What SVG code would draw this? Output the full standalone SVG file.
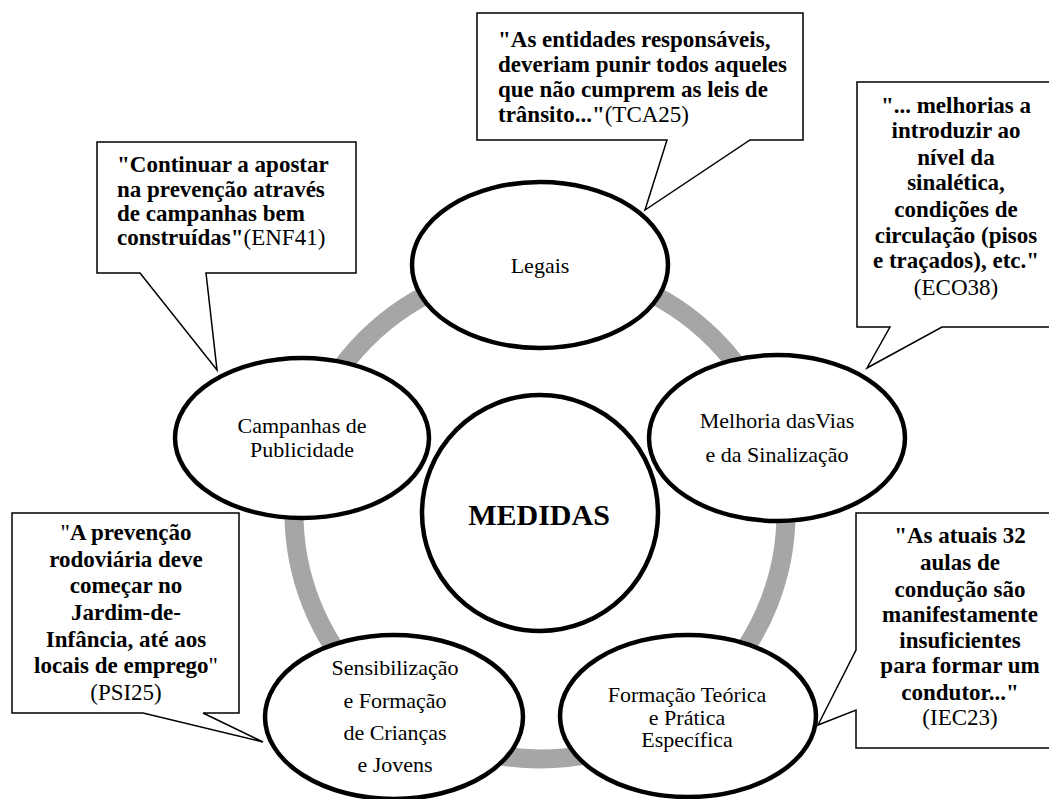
<svg xmlns="http://www.w3.org/2000/svg" width="1049" height="799" viewBox="0 0 1049 799" font-family="'Liberation Serif', Tinos, 'Times New Roman', Times, 'DejaVu Serif', serif">
<style>
text{font-family:'Liberation Serif',Tinos,'Times New Roman',Times,'DejaVu Serif',serif;fill:#000}
.node{fill:#fff;stroke:#000;stroke-width:4.5}
.lbl{font-size:22px;text-anchor:middle}
.call{fill:#fff;stroke:#000;stroke-width:1.5;stroke-linejoin:miter}
.q{font-size:23px;font-weight:bold}
.r{font-weight:normal}
.c{text-anchor:middle}
</style>
<rect width="1049" height="799" fill="#fff"/>
<g id="connectors">
<circle cx="540" cy="513" r="246" fill="none" stroke="#a6a6a6" stroke-width="19"/>
</g>
<g id="node-legais">
<ellipse class="node" cx="540" cy="265" rx="128" ry="83"/>
<text class="lbl" x="540" y="273">Legais</text>
</g>
<g id="node-melhoria">
<ellipse class="node" cx="777" cy="438" rx="128" ry="83"/>
<text class="lbl" x="777" y="428">Melhoria dasVias</text>
<text class="lbl" x="777" y="462">e da Sinalização</text>
</g>
<g id="node-formacao">
<ellipse class="node" cx="688" cy="716" rx="128" ry="81"/>
<text class="lbl" x="687" y="702">Formação Teórica</text>
<text class="lbl" x="687" y="725">e Prática</text>
<text class="lbl" x="687" y="747">Específica</text>
</g>
<g id="node-sensibilizacao">
<ellipse class="node" cx="394" cy="717" rx="129" ry="82"/>
<text class="lbl" x="395" y="675">Sensibilização</text>
<text class="lbl" x="395" y="708">e Formação</text>
<text class="lbl" x="395" y="740">de Crianças</text>
<text class="lbl" x="395" y="772">e Jovens</text>
</g>
<g id="node-campanhas">
<ellipse class="node" cx="302" cy="438" rx="127" ry="80"/>
<text class="lbl" x="302" y="433">Campanhas de</text>
<text class="lbl" x="302" y="457">Publicidade</text>
</g>
<g id="node-medidas">
<ellipse class="node" cx="540" cy="513" rx="118" ry="118"/>
<text x="539" y="525" font-size="30" font-weight="bold" text-anchor="middle">MEDIDAS</text>
</g>
<g id="callout-tca25">
<path class="call" d="M477,13 H803 V140 H750 L645,210 L667,140 H477 Z"/>
<text class="q" x="498" y="47">"As entidades responsáveis,</text>
<text class="q" x="498" y="72">deveriam punir todos aqueles</text>
<text class="q" x="498" y="97">que não cumprem as leis de</text>
<text class="q" x="498" y="122">trânsito..."<tspan class="r">(TCA25)</tspan></text>
</g>
<g id="callout-enf41">
<path class="call" d="M97,142 H356 V273 H206 L217,370 L140,273 H97 Z"/>
<text class="q" x="117" y="172">"Continuar a apostar</text>
<text class="q" x="117" y="197">na prevenção através</text>
<text class="q" x="117" y="221">de campanhas bem</text>
<text class="q" x="117" y="245">construídas"<tspan class="r">(ENF41)</tspan></text>
</g>
<g id="callout-eco38">
<path class="call" d="M857,82 H1062 V327 H942 L867,368 L890,327 H857 Z"/>
<text class="q c" x="956" y="113">"... melhorias a</text>
<text class="q c" x="956" y="138">introduzir ao</text>
<text class="q c" x="956" y="165">nível da</text>
<text class="q c" x="956" y="190">sinalética,</text>
<text class="q c" x="956" y="217">condições de</text>
<text class="q c" x="956" y="243">circulação (pisos</text>
<text class="q c" x="956" y="268">e traçados), etc."</text>
<text class="q c r" x="956" y="295">(ECO38)</text>
</g>
<g id="callout-iec23">
<path class="call" d="M856,513 H1066 V748 H856 V710 L818,725 L856,650 Z"/>
<text class="q c" x="960" y="543">"As atuais 32</text>
<text class="q c" x="960" y="570">aulas de</text>
<text class="q c" x="960" y="597">condução são</text>
<text class="q c" x="960" y="622">manifestamente</text>
<text class="q c" x="960" y="648">insuficientes</text>
<text class="q c" x="960" y="673">para formar um</text>
<text class="q c" x="960" y="700">condutor..."</text>
<text class="q c r" x="960" y="725">(IEC23)</text>
</g>
<g id="callout-psi25">
<path class="call" d="M12,513 H239 V713 H203 L263,742 L143,713 H12 Z"/>
<text class="q c" x="126" y="540"><tspan class="r">"</tspan>A prevenção</text>
<text class="q c" x="126" y="567">rodoviária deve</text>
<text class="q c" x="126" y="593">começar no</text>
<text class="q c" x="126" y="620">Jardim-de-</text>
<text class="q c" x="126" y="647">Infância, até aos</text>
<text class="q c" x="126" y="673">locais de emprego<tspan class="r">"</tspan></text>
<text class="q c r" x="126" y="700">(PSI25)</text>
</g>
</svg>
